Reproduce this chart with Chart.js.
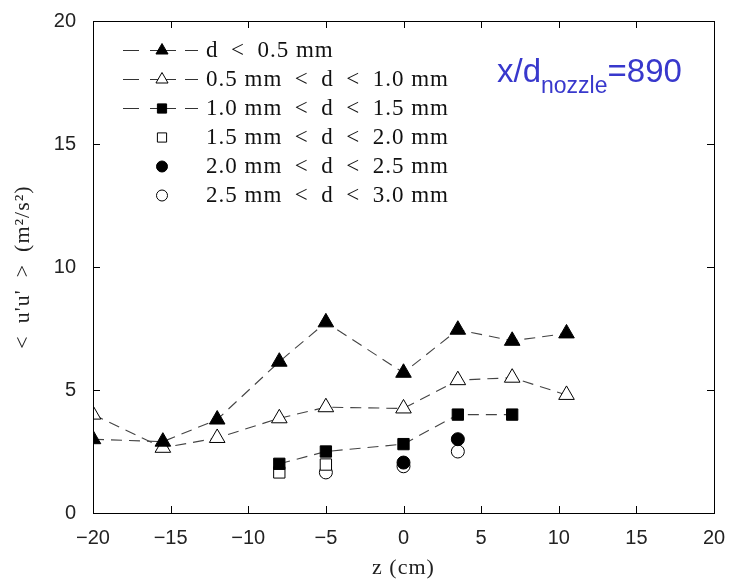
<!DOCTYPE html>
<html>
<head>
<meta charset="utf-8">
<script src="https://cdn.jsdelivr.net/npm/chart.js@4.4.1/dist/chart.umd.min.js"></script>
<style>
  html, body { margin: 0; padding: 0; background: #fff; }
  #wrap { width: 734px; height: 580px; }
</style>
</head>
<body>
<div id="wrap"><canvas id="chart" width="734" height="580"></canvas></div>
<script>
// z positions (cm)
const zAll = [-20, -15.5, -12, -8, -5, 0, 3.5, 7, 10.5];
const zSq = [-8, -5, 0, 3.5, 7];
const zSqOpen = [-8, -5];
const zCirc = [0, 3.5];
const zCircOpen = [-5, 0, 3.5];

// <u'u'> values (m^2/s^2)
const dLt05 = [3.0, 2.9, 3.8, 6.15, 7.75, 5.7, 7.45, 7.0, 7.3];
const d05to10 = [4.0, 2.65, 3.05, 3.85, 4.3, 4.25, 5.4, 5.5, 4.8];
const d10to15 = [2.0, 2.5, 2.8, 4.0, 4.0];
const d15to20 = [1.65, 1.97];
const d20to25 = [2.05, 3.0];
const d25to30 = [1.65, 1.9, 2.5];

const legendLabels = [
  'd < 0.5 mm',
  '0.5 mm < d < 1.0 mm',
  '1.0 mm < d < 1.5 mm',
  '1.5 mm < d < 2.0 mm',
  '2.0 mm < d < 2.5 mm',
  '2.5 mm < d < 3.0 mm'
];
const xTicks = [-20, -15, -10, -5, 0, 5, 10, 15, 20];
const yTicks = [0, 5, 10, 15, 20];
const xTitle = 'z (cm)';
const yTitle = "< u'u' > (m\u00b2/s\u00b2)";

function pts(xs, ys) { return xs.map((x, i) => ({ x: x, y: ys[i] })); }

const marks = [
  { style: 'triangle', fill: '#000', r: 9, line: true },
  { style: 'triangle', fill: '#fff', r: 9, line: true },
  { style: 'rect', fill: '#000', r: 8, line: true },
  { style: 'rect', fill: '#fff', r: 8, line: false },
  { style: 'circle', fill: '#000', r: 6.5, line: false },
  { style: 'circle', fill: '#fff', r: 6.5, line: false }
];
const seriesData = [
  pts(zAll, dLt05), pts(zAll, d05to10), pts(zSq, d10to15),
  pts(zSqOpen, d15to20), pts(zCirc, d20to25), pts(zCircOpen, d25to30)
];

const datasets = seriesData.map((data, i) => ({
  label: legendLabels[i],
  data: data,
  showLine: marks[i].line,
  borderColor: '#444',
  borderWidth: 1.1,
  borderDash: [11, 7],
  pointStyle: marks[i].style,
  pointRadius: marks[i].r,
  pointBackgroundColor: marks[i].fill,
  pointBorderColor: '#000',
  pointBorderWidth: 1,
  order: i < 3 ? 1 : 2
}));

const serif = '"Liberation Serif", "DejaVu Serif", serif';
// wider gaps round "<", closer to the TeX look
const texSpaced = s => s.replace(/ < /g, '\u2002<\u2002');

// frame with inward ticks on all sides, titles, legend and annotation
const framePlugin = {
  id: 'frame',
  afterDraw(chart) {
    const ctx = chart.ctx;
    const a = chart.chartArea;
    const xs = chart.scales.x, ys = chart.scales.y;
    ctx.save();
    ctx.strokeStyle = '#000';
    ctx.lineWidth = 1;
    ctx.strokeRect(a.left + 0.5, a.top + 0.5, a.right - a.left, a.bottom - a.top);
    ctx.beginPath();
    xTicks.forEach(v => {
      const px = Math.round(xs.getPixelForValue(v)) + 0.5;
      ctx.moveTo(px, a.bottom); ctx.lineTo(px, a.bottom - 7);
      ctx.moveTo(px, a.top); ctx.lineTo(px, a.top + 7);
    });
    yTicks.forEach(v => {
      const py = Math.round(ys.getPixelForValue(v)) + 0.5;
      ctx.moveTo(a.left, py); ctx.lineTo(a.left + 7, py);
      ctx.moveTo(a.right, py); ctx.lineTo(a.right - 7, py);
    });
    ctx.stroke();

    // axis titles
    ctx.fillStyle = '#222';
    ctx.font = '22px ' + serif;
    ctx.letterSpacing = '1px';
    ctx.textAlign = 'center';
    ctx.textBaseline = 'alphabetic';
    ctx.fillText(xTitle, (a.left + a.right) / 2, 574);
    ctx.save();
    ctx.translate(29, (a.top + a.bottom) / 2);
    ctx.rotate(-Math.PI / 2);
    ctx.fillText(yTitle.replace(/ /g, '\u2002'), 0, 0);
    ctx.restore();

    // legend
    const rowY = [50, 79, 108, 137, 166, 195];
    ctx.textAlign = 'left';
    ctx.font = '23px ' + serif;
    ctx.textBaseline = 'middle';
    legendLabels.forEach((lab, i) => {
      const y = rowY[i] + 0.5;
      const m = marks[i];
      if (m.line) {
        ctx.strokeStyle = '#333';
        ctx.beginPath();
        ctx.moveTo(123, y); ctx.lineTo(139, y);
        ctx.moveTo(150, y); ctx.lineTo(176, y);
        ctx.moveTo(185, y); ctx.lineTo(198, y);
        ctx.stroke();
      }
      ctx.strokeStyle = '#000';
      ctx.fillStyle = m.fill;
      Chart.helpers.drawPoint(ctx, {
        pointStyle: m.style,
        radius: m.style === 'triangle' ? 7 : (m.style === 'rect' ? 6.5 : 5.5),
        borderWidth: 1
      }, 162, y);
      ctx.fillStyle = '#111';
      ctx.fillText(texSpaced(lab), 206, rowY[i] + 1);
    });

    // annotation
    ctx.letterSpacing = '0px';
    ctx.fillStyle = '#3838cc';
    ctx.textBaseline = 'alphabetic';
    ctx.font = '33px "Liberation Sans", Arial, sans-serif';
    let x = 497;
    ctx.fillText('x/d', x, 82);
    x += ctx.measureText('x/d').width;
    ctx.font = '23px "Liberation Sans", Arial, sans-serif';
    ctx.fillText('nozzle', x, 93);
    x += ctx.measureText('nozzle').width;
    ctx.font = '33px "Liberation Sans", Arial, sans-serif';
    ctx.fillText('=890', x, 82);
    ctx.restore();
  }
};

new Chart(document.getElementById('chart').getContext('2d'), {
  type: 'scatter',
  data: { datasets: datasets },
  options: {
    responsive: false,
    animation: false,
    layout: { padding: { top: 15, right: 20, left: 0, bottom: 0 } },
    plugins: { legend: { display: false }, tooltip: { enabled: false } },
    scales: {
      x: {
        type: 'linear', min: -20, max: 20,
        grid: { display: false },
        border: { display: false },
        afterBuildTicks: s => { s.ticks = xTicks.map(v => ({ value: v })); },
        afterFit: s => { s.height = 67; },
        ticks: {
          color: '#222', padding: 5,
          font: { family: '"Liberation Sans", Arial, sans-serif', size: 20 },
          callback: v => String(v).replace('-', '\u2212')
        }
      },
      y: {
        type: 'linear', min: 0, max: 20,
        grid: { display: false },
        border: { display: false },
        afterBuildTicks: s => { s.ticks = yTicks.map(v => ({ value: v })); },
        afterFit: s => { s.width = 93; },
        ticks: {
          color: '#222', padding: 9,
          font: { family: '"Liberation Sans", Arial, sans-serif', size: 20 }
        }
      }
    }
  },
  plugins: [framePlugin]
});
</script>
</body>
</html>
